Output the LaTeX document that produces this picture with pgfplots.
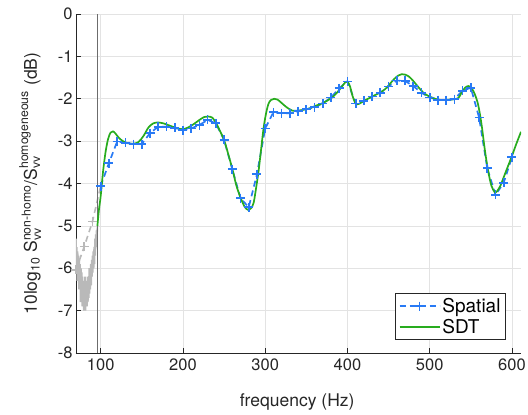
\documentclass[border=0pt]{standalone}
\usepackage{fontspec}
\setmainfont{TeX Gyre Heros}
\usepackage{amsmath}
\usepackage{pgfplots}
\pgfplotsset{compat=1.18}
\definecolor{spblue}{RGB}{40,122,245}
\definecolor{sdtgreen}{RGB}{40,172,30}
\definecolor{axgray}{RGB}{38,38,38}
\begin{document}
\begin{tikzpicture}
\begin{axis}[
  scale only axis, width=445pt, height=339pt,
  xmin=70, xmax=611, ymin=-8, ymax=0,
  axis x line*=bottom, axis y line*=left,
  axis line style={axgray, line width=0.7pt},
  tick style={axgray, line width=0.7pt},
  tick align=inside, major tick length=5pt,
  xtick={100,200,300,400,500,600},
  ytick={-8,-7,-6,-5,-4,-3,-2,-1,0},
  grid=major, major grid style={gray!22, line width=0.7pt},
  /pgf/number format/assume math mode=true,
  tick label style={font=\fontsize{16.5}{19}\selectfont, text=axgray},
  xticklabel style={yshift=-2pt},
  xlabel={frequency (Hz)},
  ylabel={10log$_{\text{10}}$ S$_{\text{vv}}^{\text{non-homo}}$/S$_{\text{vv}}^{\text{homogeneous}}$ (dB)},
  label style={font=\fontsize{17.5}{20}\selectfont, text=axgray},
  xlabel style={at={(axis description cs:0.497,-0.144)}, anchor=center},
  ylabel style={at={(axis description cs:-0.103,0.5)}, anchor=center},
  legend style={at={(0.966,0.038)}, anchor=south east, draw=axgray, line width=0.7pt,
    font=\fontsize{19}{22}\selectfont, cells={anchor=west}, inner sep=3pt, row sep=1pt},
  legend image code/.code={\draw[mark repeat=2,mark phase=2,#1] plot coordinates {(0pt,0pt)(20pt,0pt)(40pt,0pt)};},
]
% grey (below cut-off) SDT noise
\addplot[color=gray!55, line width=1.6pt, forget plot] coordinates {
(70,-5.3)(70.5,-6.1)(71,-5.5)(71.5,-6.3)(72,-5.6)(72.5,-6.0)(73,-5.7)(73.5,-6.5)(74,-5.8)(74.5,-6.4)
(75,-5.9)(75.5,-6.8)(76,-6.0)(76.5,-6.6)(77,-6.1)(77.5,-6.9)(78,-6.2)(78.5,-6.7)(79,-6.3)(79.5,-7.0)
(80,-6.3)(80.5,-6.8)(81,-6.2)(81.5,-7.0)(82,-6.4)(82.5,-6.9)(83,-6.3)(83.5,-6.9)(84,-6.2)(84.5,-6.8)
(85,-6.2)(85.5,-6.7)(86,-6.0)(86.5,-6.6)(87,-6.0)(87.5,-6.5)(88,-5.9)(88.5,-6.4)(89,-5.8)(89.5,-6.2)
(90,-5.7)(90.5,-6.1)(91,-5.6)(91.5,-6.0)(92,-5.5)(92.5,-5.9)(93,-5.3)(93.5,-5.7)(94,-5.2)(94.5,-5.5)
(95,-5.1)(95.5,-5.3)(96,-5.0)};
% grey spatial part
\addplot[color=gray!55, line width=1.6pt, dash pattern=on 6pt off 4pt, mark=+, mark size=4.5pt,
  mark options={solid}, mark indices={1,2,3}, forget plot] coordinates {
(70,-6.04)(80,-5.49)(90,-4.90)(100,-4.06)};
% cut-off line
\addplot[color=gray!85!black, line width=1.5pt, forget plot] coordinates {(96,-8)(96,0)};
% Spatial
\addplot[color=spblue, line width=1.7pt, dash pattern=on 6pt off 4pt, mark=+, mark size=4.5pt,
  mark options={solid, line width=1.7pt}] coordinates {
(100,-4.06)(110,-3.52)(120,-3.01)(130,-3.04)(140,-3.07)(150,-3.07)(160,-2.81)(170,-2.66)(180,-2.66)(190,-2.69)
(200,-2.74)(210,-2.70)(220,-2.62)(230,-2.50)(240,-2.58)(250,-2.97)(260,-3.66)(270,-4.35)(280,-4.56)(290,-3.78)
(300,-2.70)(310,-2.32)(320,-2.34)(330,-2.34)(340,-2.29)(350,-2.25)(360,-2.20)(370,-2.11)(380,-1.97)(390,-1.75)
(400,-1.59)(410,-2.11)(420,-2.05)(430,-1.95)(440,-1.86)(450,-1.71)(460,-1.57)(470,-1.58)(480,-1.70)(490,-1.86)
(500,-1.97)(510,-2.03)(520,-2.03)(530,-2.01)(540,-1.81)(550,-1.74)(560,-2.44)(570,-3.64)(580,-4.27)(590,-3.98)
(600,-3.38)};
\addlegendentry{Spatial}
% SDT
\addplot[color=sdtgreen, line width=1.7pt, smooth, tension=0.5] coordinates {
(96,-5.0)(98,-4.6)(100,-4.3)(103,-3.7)(106,-3.25)(109,-2.95)(112,-2.8)(115,-2.77)(118,-2.82)(122,-2.92)
(127,-3.0)(133,-3.05)(140,-3.06)(146,-3.02)(152,-2.88)(158,-2.68)(164,-2.58)(170,-2.56)(176,-2.58)(182,-2.62)
(189,-2.67)(196,-2.71)(200,-2.72)(206,-2.68)(213,-2.6)(220,-2.5)(226,-2.43)(231,-2.42)(236,-2.45)(241,-2.6)
(246,-2.8)(250,-2.97)(255,-3.3)(260,-3.65)(265,-4.05)(270,-4.33)(275,-4.55)(279,-4.62)(283,-4.58)(286,-4.45)
(289,-4.1)(292,-3.7)(295,-3.2)(298,-2.7)(301,-2.35)(304,-2.12)(307,-2.03)(311,-2.0)(315,-2.02)(320,-2.1)
(326,-2.2)(333,-2.28)(340,-2.28)(347,-2.26)(355,-2.22)(362,-2.16)(368,-2.12)(375,-2.05)(382,-1.96)(388,-1.84)
(393,-1.72)(397,-1.62)(400,-1.6)(403,-1.7)(406,-1.92)(409,-2.08)(412,-2.13)(416,-2.1)(422,-2.03)(428,-1.97)
(434,-1.91)(440,-1.85)(446,-1.77)(452,-1.64)(457,-1.53)(462,-1.45)(466,-1.42)(470,-1.43)(475,-1.48)(480,-1.58)
(486,-1.72)(492,-1.85)(498,-1.93)(504,-1.98)(510,-2.02)(517,-2.03)(524,-2.02)(530,-2.01)(535,-1.98)(539,-1.85)
(543,-1.74)(547,-1.7)(551,-1.75)(555,-1.9)(559,-2.15)(563,-2.6)(567,-3.2)(571,-3.7)(575,-4.05)(579,-4.2)
(582,-4.18)(586,-4.05)(590,-3.85)(595,-3.6)(600,-3.35)(605,-3.08)(611,-2.78)};
\addlegendentry{SDT}
\end{axis}
\pgfresetboundingbox
\path (current axis.south west) ++(-76pt,-62pt) rectangle ++(528pt,415pt);
\end{tikzpicture}
\end{document}
